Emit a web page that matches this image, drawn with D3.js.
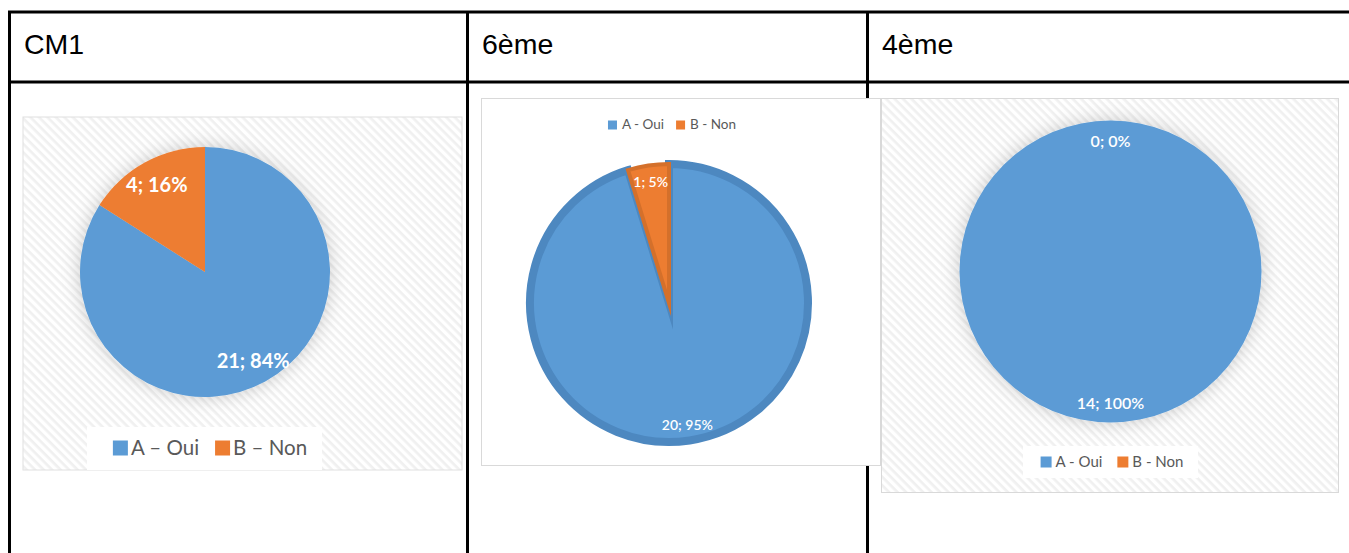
<!DOCTYPE html>
<html><head><meta charset="utf-8">
<script src="https://cdn.jsdelivr.net/npm/d3@7"></script>
<style>
html,body{margin:0;padding:0;background:#fff;}
svg{display:block;}
</style></head>
<body>
<svg id="c" width="1349" height="553"></svg>
<script>
// ---- data ----
const panelTitles = ["CM1", "6ème", "4ème"];
const categories = ["A - Oui", "B - Non"];
const legendCM1 = ["A – Oui", "B – Non"];
const valuesCM1 = [21, 4];
const values6 = [20, 1];
const values4 = [14, 0];
const colors = ["#5b9bd5", "#ed7d31"];
const strokeColors = ["#4d88c0", "#d4702b"];

const svg = d3.select("#c");
const defs = svg.append("defs");

// hatch pattern
const pat = defs.append("pattern").attr("id", "hatch")
  .attr("patternUnits", "userSpaceOnUse").attr("width", 6).attr("height", 6)
  .attr("patternTransform", "rotate(45)");
pat.append("rect").attr("width", 6).attr("height", 6).attr("fill", "#ffffff");
pat.append("rect").attr("width", 6).attr("height", 2.6).attr("fill", "#f0f0f0");

const f = defs.append("filter").attr("id", "glow")
  .attr("x", "-30%").attr("y", "-30%").attr("width", "160%").attr("height", "160%");
f.append("feDropShadow").attr("dx", 0).attr("dy", 0).attr("stdDeviation", 9)
  .attr("flood-color", "#000").attr("flood-opacity", 0.2);

// ---- table ----
const tbl = svg.append("g");
const line = (x1, y1, x2, y2) => tbl.append("line").attr("x1", x1).attr("y1", y1)
  .attr("x2", x2).attr("y2", y2).attr("stroke", "#000").attr("stroke-width", 3);
line(8, 12, 1349, 12);
line(8, 82, 1349, 82);
line(9.5, 11, 9.5, 553);
line(467.5, 11, 467.5, 553);
line(867.5, 11, 867.5, 553);
const titleX = [24, 482, 882];
panelTitles.forEach((t, i) => {
  tbl.append("text").attr("x", titleX[i]).attr("y", 54)
    .attr("font-family", "Liberation Sans, Arial, sans-serif")
    .attr("font-size", 28.5).attr("fill", "#000").text(t);
});

const fmt = (v, tot) => v + "; " + Math.round(v / tot * 100) + "%";

function drawLegend(g, cx, cy, labels, fs, sq, gapText, gapItem, font, weight) {
  const lg = g.append("g");
  const items = labels.map((l, i) => {
    const t = lg.append("text").attr("font-family", font).attr("font-size", fs)
      .attr("font-weight", weight || 400)
      .attr("fill", "#595959").attr("dominant-baseline", "central").attr("y", cy).text(l);
    return { t, w: t.node().getComputedTextLength(), i };
  });
  const total = items.reduce((s, d) => s + sq + gapText + d.w, 0) + gapItem * (items.length - 1);
  let x = cx - total / 2;
  items.forEach(d => {
    lg.append("rect").attr("x", x).attr("y", cy - sq / 2 + 1).attr("width", sq).attr("height", sq)
      .attr("fill", colors[d.i]);
    x += sq + gapText;
    d.t.attr("x", x);
    x += d.w + gapItem;
  });
  return lg;
}

function pie(g, values, cx, cy, R, labelR, fs, opts) {
  const tot = d3.sum(values);
  const arcs = d3.pie().sort(null).value(d => d)(values);
  const arc = d3.arc().innerRadius(0).outerRadius(R);
  const lab = d3.arc().innerRadius(labelR).outerRadius(labelR);
  const pg = g.append("g").attr("transform", `translate(${cx},${cy})`);
  const sg = pg.append("g");
  if (opts.glow) sg.attr("filter", "url(#glow)");
  sg.selectAll("path").data(arcs).join("path")
    .attr("d", arc)
    .attr("fill", (d, i) => colors[i])
    .attr("stroke", (d, i) => opts.stroke ? strokeColors[i] : "none")
    .attr("stroke-width", (d, i) => opts.stroke ? opts.stroke[i] : 0)
    .attr("stroke-linejoin", "miter")
    .attr("stroke-miterlimit", 40);
  pg.selectAll("text.lbl").data(arcs).join("text").attr("class", "lbl")
    .attr("transform", d => `translate(${lab.centroid(d)})`)
    .attr("text-anchor", "middle").attr("dominant-baseline", "central")
    .attr("font-family", "Lato, Calibri, sans-serif")
    .attr("font-weight", opts.weight).attr("font-size", fs).attr("fill", "#fff")
    .text(d => fmt(d.data, tot));
}

// ---- CM1 ----
const g1 = svg.append("g");
g1.append("rect").attr("x", 23).attr("y", 117).attr("width", 439).attr("height", 353)
  .attr("fill", "url(#hatch)").attr("stroke", "#e0e0e0").attr("stroke-width", 1);
pie(g1, valuesCM1, 205, 272, 125, 100, 20, { glow: true, weight: 700 });
g1.append("rect").attr("x", 87).attr("y", 427).attr("width", 235).attr("height", 43).attr("fill", "#fff");
drawLegend(g1, 210, 447, legendCM1, 20.5, 15, 3, 16, "Lato, Calibri, sans-serif", 400);

// ---- 6ème ----
const g2 = svg.append("g");
g2.append("rect").attr("x", 481.5).attr("y", 98.5).attr("width", 399).attr("height", 367)
  .attr("fill", "#fff").attr("stroke", "#d9d9d9").attr("stroke-width", 1);
drawLegend(g2, 672, 124, categories, 13.5, 9, 5, 12, "Lato, Calibri, sans-serif", 400);
pie(g2, values6, 669, 303, 139, 123, 14, { stroke: [8, 4], weight: 600 });

// ---- 4ème ----
const g3 = svg.append("g");
g3.append("rect").attr("x", 881.5).attr("y", 98.5).attr("width", 457).attr("height", 394)
  .attr("fill", "url(#hatch)").attr("stroke", "#d9d9d9").attr("stroke-width", 1);
pie(g3, values4, 1110.5, 271.5, 151, 131, 16, { glow: true, weight: 600 });
g3.append("rect").attr("x", 1023).attr("y", 446).attr("width", 175).attr("height", 32).attr("fill", "#fff");
drawLegend(g3, 1112, 461, categories, 15, 11, 4, 15, "Lato, Calibri, sans-serif", 400);
</script>
</body></html>
